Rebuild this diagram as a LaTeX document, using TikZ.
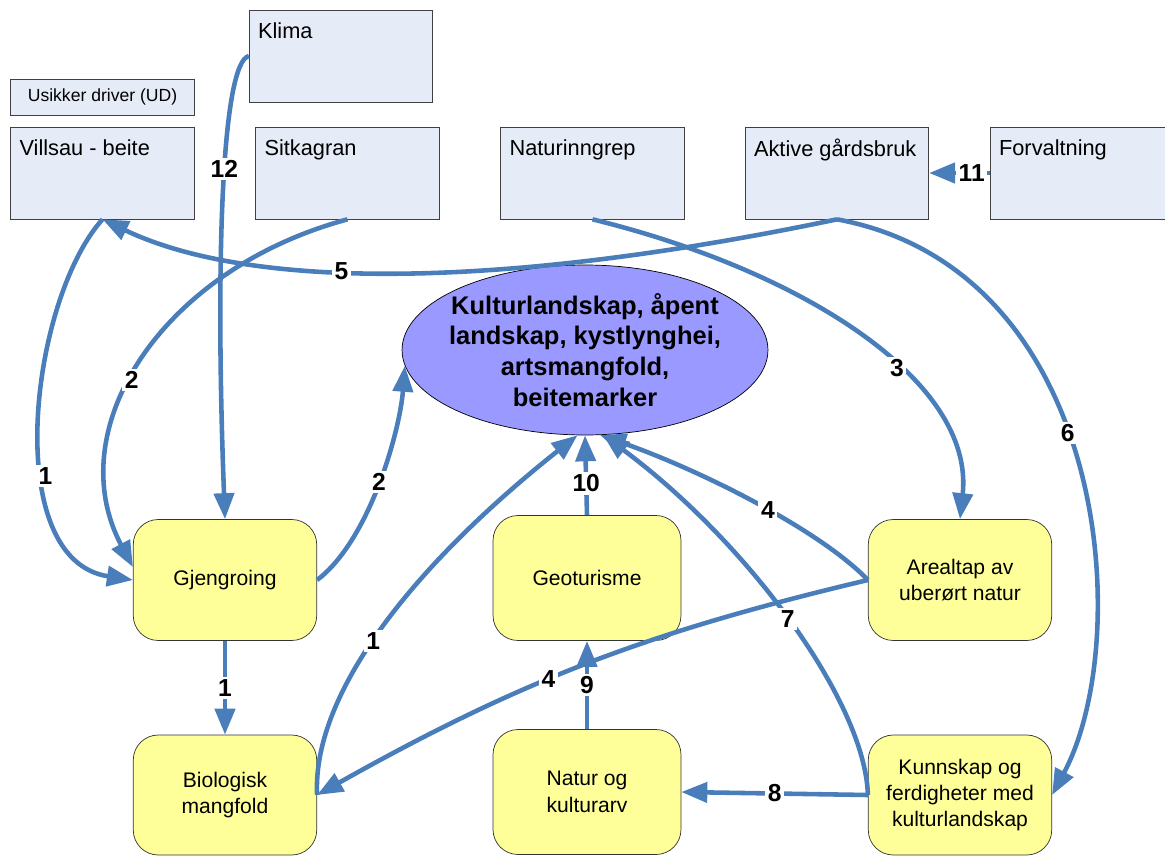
\documentclass[tikz,border=0pt]{standalone}
\usepackage{fontspec}
\setmainfont{Liberation Sans}
\usetikzlibrary{arrows.meta, shapes.geometric, calc}
\definecolor{linkblue}{HTML}{4A7EBB}
\definecolor{driverfill}{HTML}{E6ECF7}
\definecolor{effectfill}{HTML}{FFFF99}
\definecolor{corefill}{HTML}{9999FF}
\tikzset{> = { Triangle[length = 5.2mm, width = 4mm] }}
\tikzset{
	driver/.style = {draw = black!75, fill = driverfill, minimum width = 3.67cm, minimum height = 1.84cm, inner sep = 0pt},
	drivertext/.style = {anchor = north west, inner xsep = 5pt, inner ysep = 7pt, font = \fontsize{12.4pt}{14pt}\selectfont},
	effect/.style = {draw = black!80, fill = effectfill, rounded corners = 0.5cm, minimum width = 3.67cm, minimum height = 2.42cm, align = center, font = \fontsize{12pt}{15pt}\selectfont},
	core/.style = {draw = black, fill = corefill, ellipse, minimum width = 7.32cm, minimum height = 3.4cm, inner xsep = -0.2cm, inner ysep = 0pt, align = center, font = \fontsize{14.5pt}{17.5pt}\selectfont\bfseries},
	link/.style = {draw = linkblue, line width = 2.6pt, ->},
	num/.style = {fill = white, inner sep = 1.5pt, font = \fontsize{14pt}{16pt}\selectfont\bfseries}
}

\begin{document}
\begin{tikzpicture}[x = 0.02cm, y = -0.02cm]
	\useasboundingbox (0, 0) rectangle (1165, 855);

	% drivere
	\node [driver, minimum height = 0.72cm, font = \fontsize{10pt}{12pt}\selectfont] (ud) at (102.5, 97) {Usikker driver (UD)};
	\node [driver, label = {[drivertext]north west:Klima}] (klima) at (341, 56) {};
	\node [driver, label = {[drivertext]north west:Villsau - beite}] (villsau) at (102.5, 173) {};
	\node [driver, label = {[drivertext]north west:Sitkagran}] (sitka) at (347.5, 173) {};
	\node [driver, label = {[drivertext]north west:Naturinngrep}] (inngrep) at (592.5, 173) {};
	\node [driver, label = {[drivertext]north west:Aktive gårdsbruk}] (aktive) at (837, 173) {};
	\node [driver, label = {[drivertext]north west:Forvaltning}] (forv) at (1082, 173) {};

	% tilstand
	\node [core] (kl) at (585, 350) {Kulturlandskap, åpent\\landskap, kystlynghei,\\artsmangfold,\\beitemarker};

	% effekter
	\node [effect] (gjeng) at (225, 580) {Gjengroing};
	\node [effect, minimum width = 3.76cm, minimum height = 2.5cm] (geo) at (587, 578) {Geoturisme};
	\node [effect] (areal) at (960, 580) {Arealtap av\\uberørt natur};
	\node [effect, minimum height = 2.4cm] (bio) at (225, 795) {Biologisk\\mangfold};
	\node [effect, minimum width = 3.76cm, minimum height = 2.5cm] (natur) at (587, 792) {Natur og\\kulturarv};
	\node [effect, minimum height = 2.4cm] (kunn) at (960, 795) {Kunnskap og\\ferdigheter med\\kulturlandskap};

	% piler
	\draw [link] (villsau.south) .. controls (30, 300) and (0, 560) .. node[num, pos = 0.62]{1} (gjeng.west);
	\draw [link] (sitka.south) .. controls (160, 270) and (60, 430) .. node[num, pos = 0.55]{2} (gjeng.172);
	\draw [link] (klima.west) .. controls (222, 62) and (215, 260) .. node[num, pos = 0.45]{12} (gjeng.north);
	\draw [link] (aktive.south) .. controls (500, 290) and (250, 290) .. node[num, pos = 0.58]{5} (villsau.south);
	\draw [link] (forv.west) -- node[num, pos = 0.3]{11} (aktive.east);
	\draw [link] (inngrep.south) .. controls (800, 270) and (975, 380) .. node[num, pos = 0.6]{3} (areal.north);
	\draw [link] (aktive.south) .. controls (1110, 270) and (1135, 640) .. node[num, pos = 0.45]{6} (kunn.east);
	\draw [link] (gjeng.east) .. controls (370, 540) and (400, 430) .. node[num, pos = 0.5]{2} (kl.185);
	\draw [link] (bio.east) .. controls (312, 690) and (420, 560) .. node[num, pos = 0.45]{1} (kl.265);
	\draw [link] (geo.north) -- node[num, pos = 0.4]{10} (kl.south);
	\draw [link] (areal.west) .. controls (820, 530) and (700, 470) .. node[num, pos = 0.45]{4} (kl.280);
	\draw [link] (areal.west) to[bend right = 8] node[num, pos = 0.57]{4} (bio.east);
	\draw [link] (kunn.west) .. controls (865, 700) and (745, 540) .. node[num, pos = 0.5]{7} (kl.282);
	\draw [link] (natur.north) -- node[num]{9} (geo.south);
	\draw [link] (kunn.west) -- node[num]{8} (natur.east);
	\draw [link] (gjeng.south) -- node[num]{1} (bio.north);
\end{tikzpicture}
\end{document}
